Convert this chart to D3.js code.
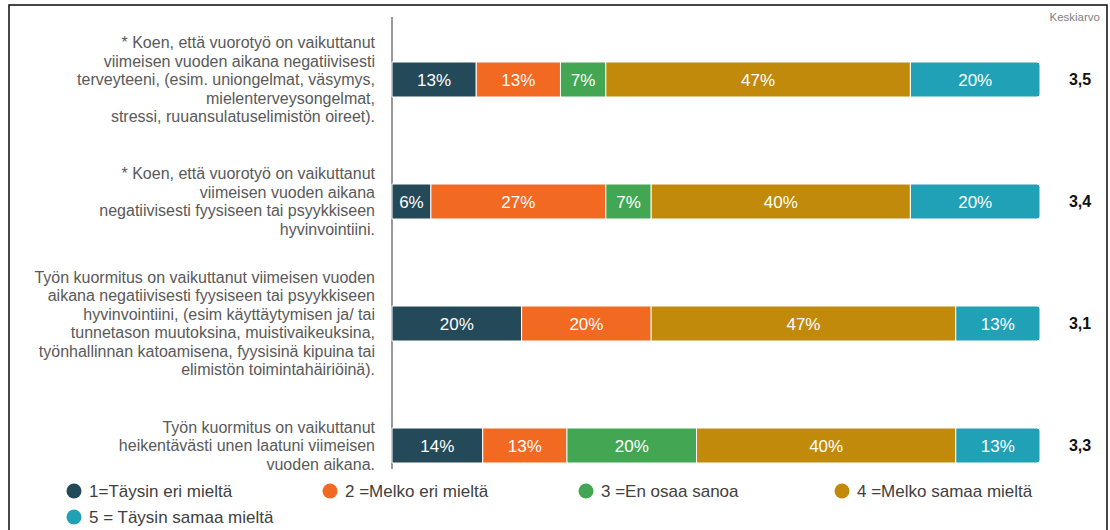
<!DOCTYPE html>
<html>
<head>
<meta charset="utf-8">
<script src="https://cdn.jsdelivr.net/npm/d3@7"></script>
<style>
  html, body { margin: 0; padding: 0; background: #fff; }
  svg { display: block; font-family: "Liberation Sans", Arial, sans-serif; }
</style>
</head>
<body>
<div id="chart"></div>
<script>
// statements, one array of lines per bar
var categories = [
    ["* Koen, että vuorotyö on vaikuttanut", "viimeisen vuoden aikana negatiivisesti", "terveyteeni, (esim. uniongelmat, väsymys,", "mielenterveysongelmat,", "stressi, ruuansulatuselimistön oireet)."],
    ["* Koen, että vuorotyö on vaikuttanut", "viimeisen vuoden aikana", "negatiivisesti fyysiseen tai psyykkiseen", "hyvinvointiini."],
    ["Työn kuormitus on vaikuttanut viimeisen vuoden", "aikana negatiivisesti fyysiseen tai psyykkiseen", "hyvinvointiini, (esim käyttäytymisen ja/ tai", "tunnetason muutoksina, muistivaikeuksina,", "työnhallinnan katoamisena, fyysisinä kipuina tai", "elimistön toimintahäiriöinä)."],
    ["Työn kuormitus on vaikuttanut", "heikentävästi unen laatuni viimeisen", "vuoden aikana."]
];
var seriesNames = ["1=Täysin eri mieltä", "2 =Melko eri mieltä", "3 =En osaa sanoa", "4 =Melko samaa mieltä", "5 = Täysin samaa mieltä"];
var seriesColors = ["#244a5a", "#f26922", "#43a653", "#c18a0a", "#20a1b6"];
var s1 = [13, 6, 20, 14];
var s2 = [13, 27, 20, 13];
var s3 = [7, 7, 0, 20];
var s4 = [47, 40, 47, 40];
var s5 = [20, 20, 13, 13];
var means = ["3,5", "3,4", "3,1", "3,3"];
var meanTitle = "Keskiarvo";

var width = 1110,
    height = 530,
    barHeight = 35,
    lineHeight = 18.5;

var keys = ["s1", "s2", "s3", "s4", "s5"];
var rows = categories.map(function (c, i) {
    return {i: i, s1: s1[i], s2: s2[i], s3: s3[i], s4: s4[i], s5: s5[i]};
});
var stacked = d3.stack().keys(keys)(rows);

var x = d3.scaleLinear().domain([0, 100]).range([392, 1040]);
var y = d3.scalePoint().domain(d3.range(categories.length)).range([79.5, 445.5]);
var color = d3.scaleOrdinal().domain(keys).range(seriesColors);

var svg = d3.select("#chart").append("svg")
    .attr("width", width)
    .attr("height", height);

// frame
svg.append("rect")
    .attr("x", 9).attr("y", 5)
    .attr("width", 1098).attr("height", 530)
    .attr("fill", "none")
    .attr("stroke", "#1a1a1a")
    .attr("stroke-width", 1.6);

// vertical axis line
svg.append("line")
    .attr("x1", x(0)).attr("x2", x(0))
    .attr("y1", 17).attr("y2", 469)
    .attr("stroke", "#555")
    .attr("stroke-width", 1.2);

// segment with rounded right end for last series
function segPath(x0, x1, yc, r) {
    var t = yc - barHeight / 2, b = yc + barHeight / 2;
    return "M" + x0 + "," + t + "H" + (x1 - r) + "Q" + x1 + "," + t + " " + x1 + "," + (t + r) +
        "V" + (b - r) + "Q" + x1 + "," + b + " " + (x1 - r) + "," + b + "H" + x0 + "Z";
}

var layers = svg.append("g").selectAll("g")
    .data(stacked)
    .join("g")
    .attr("fill", function (d) { return color(d.key); });

layers.selectAll("path")
    .data(function (d) { return d.filter(function (p) { return p[1] - p[0] > 0; }); })
    .join("path")
    .attr("d", function (d) {
        var last = d[1] >= 100;
        return segPath(x(d[0]), x(d[1]), y(d.data.i), last ? 3 : 0);
    })
    .attr("stroke", "#fff")
    .attr("stroke-width", 1);

layers.selectAll("text")
    .data(function (d) { return d.filter(function (p) { return p[1] - p[0] > 0; }); })
    .join("text")
    .attr("x", function (d) { return (x(d[0]) + x(d[1])) / 2; })
    .attr("y", function (d) { return y(d.data.i); })
    .attr("dy", "0.36em")
    .attr("text-anchor", "middle")
    .attr("fill", "#fff")
    .attr("font-size", 17)
    .text(function (d) { return (d[1] - d[0]) + "%"; });

// category labels
svg.append("g").selectAll("text")
    .data(categories)
    .join("text")
    .attr("text-anchor", "end")
    .attr("fill", "#595959")
    .attr("font-size", 16)
    .each(function (lines, i) {
        var yc = y(i) - (lines.length - 1) * lineHeight / 2;
        d3.select(this).selectAll("tspan")
            .data(lines)
            .join("tspan")
            .attr("x", 375)
            .attr("y", function (l, j) { return yc + j * lineHeight; })
            .attr("dy", "0.35em")
            .text(function (l) { return l; });
    });

// mean column
svg.append("text")
    .attr("x", 1100).attr("y", 21)
    .attr("text-anchor", "end")
    .attr("fill", "#808080")
    .attr("font-size", 11.5)
    .text(meanTitle);

svg.append("g").selectAll("text")
    .data(means)
    .join("text")
    .attr("x", 1080)
    .attr("y", function (d, i) { return y(i); })
    .attr("dy", "0.36em")
    .attr("text-anchor", "middle")
    .attr("font-weight", "bold")
    .attr("font-size", 16)
    .attr("fill", "#111")
    .text(function (d) { return d; });

// legend
var legend = svg.append("g").selectAll("g")
    .data(seriesNames)
    .join("g")
    .attr("transform", function (d, i) {
        return "translate(" + (74 + (i % 4) * 256) + "," + (491 + Math.floor(i / 4) * 26) + ")";
    });

legend.append("circle")
    .attr("r", 7.5)
    .attr("fill", function (d, i) { return seriesColors[i]; });

legend.append("text")
    .attr("x", 15)
    .attr("dy", "0.35em")
    .attr("font-size", 17)
    .attr("fill", "#404040")
    .text(function (d) { return d; });
</script>
</body>
</html>
